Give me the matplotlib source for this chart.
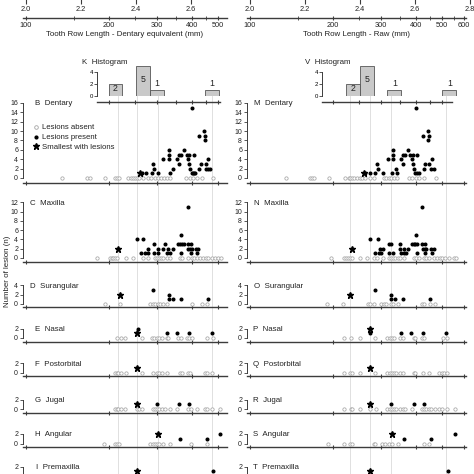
import numpy as np
import matplotlib
matplotlib.use('Agg')
import matplotlib.pyplot as plt
from matplotlib.lines import Line2D

plt.rcParams['font.family'] = ['Liberation Sans', 'DejaVu Sans']

# ---------------- data (x values are log10 tooth row length) ----------------
bones = ['Dentary', 'Maxilla', 'Surangular', 'Nasal', 'Postorbital', 'Jugal', 'Angular', 'Premaxilla']
left_letters = ['B', 'C', 'D', 'E', 'F', 'G', 'H', 'I']
right_letters = ['M', 'N', 'O', 'P', 'Q', 'R', 'S', 'T']

raw_ticks_left = [100, 200, 300, 400, 500]
raw_minor_left = [150, 250, 350, 450]
raw_ticks_right = [100, 200, 300, 400, 500, 600]
raw_minor_right = [150, 250, 350, 450, 550]
log_ticks_left = [2.0, 2.2, 2.4, 2.6]
log_ticks_right = [2.0, 2.2, 2.4, 2.6, 2.8]
hist_ticks = [200, 250, 300, 350, 400, 450, 500]

# Histograms of smallest size with lesions (bin start, counts), bin width 0.05
hist_left_bins = [2.30, 2.40, 2.45, 2.65]
hist_left_counts = [2, 5, 1, 1]
hist_right_bins = [2.35, 2.40, 2.50, 2.70]
hist_right_counts = [2, 5, 1, 1]
hist_width = 0.05

guides_left = [2.335, 2.404, 2.48, 2.676]
guides_right = [2.364, 2.436, 2.513, 2.713]

# ---- Left column: dentary equivalent ----
L_dentary_absent = [2.131, 2.222, 2.233, 2.287, 2.324, 2.331, 2.338, 2.371, 2.382, 2.389, 2.396, 2.404, 2.411,
                    2.425, 2.444, 2.455, 2.469, 2.48, 2.491, 2.502, 2.513, 2.524, 2.582, 2.596, 2.607, 2.622,
                    2.64, 2.68]
L_dentary_star = (2.415, 1)
L_dentary_px = [2.422, 2.436, 2.458, 2.462, 2.465, 2.48, 2.498, 2.52, 2.52, 2.52, 2.524, 2.535, 2.549, 2.556,
                2.564, 2.556, 2.575, 2.585, 2.593, 2.589, 2.593, 2.596, 2.604, 2.607, 2.611, 2.615, 2.604,
                2.611, 2.629, 2.636, 2.629, 2.647, 2.651, 2.651, 2.662, 2.655, 2.655, 2.662, 2.669]
L_dentary_py = [1, 1, 1, 3, 2, 1, 4, 6, 5, 4, 1, 2, 4, 5,
                5, 3, 6, 5, 5, 4, 3, 2, 1, 1, 1, 1, 15,
                5, 2, 3, 9, 10, 9, 8, 4, 3, 2, 2, 2]

L_maxilla_absent = [2.258, 2.305, 2.313, 2.318, 2.324, 2.331, 2.364, 2.389, 2.425, 2.444, 2.469, 2.476, 2.484,
                    2.491, 2.498, 2.513, 2.524, 2.56, 2.567, 2.589, 2.604, 2.611, 2.622, 2.633, 2.644, 2.655,
                    2.662, 2.676, 2.687, 2.698, 2.709]
L_maxilla_star = (2.335, 2)
L_maxilla_px = [2.404, 2.425, 2.418, 2.433, 2.444, 2.444, 2.465, 2.465, 2.48, 2.48, 2.498, 2.505, 2.513, 2.516,
                2.524, 2.535, 2.553, 2.56, 2.567, 2.575, 2.564, 2.564, 2.589, 2.589, 2.6, 2.589, 2.596, 2.604,
                2.6, 2.618, 2.625, 2.622]
L_maxilla_py = [4, 4, 1, 1, 1, 2, 3, 1, 1, 2, 2, 3, 1, 2,
                1, 2, 3, 3, 3, 3, 5, 1, 11, 3, 3, 2, 2, 2,
                1, 2, 2, 1]

L_surangular_absent = [2.287, 2.342, 2.451, 2.461, 2.469, 2.481, 2.487, 2.497, 2.512, 2.603, 2.639, 2.659]
L_surangular_star = (2.342, 2)
L_surangular_px = [2.462, 2.52, 2.52, 2.535, 2.564, 2.662]
L_surangular_py = [3, 2, 1, 1, 1, 1]

L_nasal_absent = [2.33, 2.344, 2.36, 2.421, 2.457, 2.465, 2.475, 2.485, 2.493, 2.512, 2.517, 2.554, 2.563,
                  2.584, 2.594, 2.603, 2.657, 2.679]
L_nasal_star = (2.403, 1)
L_nasal_px = [2.406, 2.512, 2.549, 2.593, 2.675]
L_nasal_py = [2, 1, 1, 1, 1]

L_postorbital_absent = [2.324, 2.33, 2.336, 2.344, 2.364, 2.421, 2.461, 2.475, 2.485, 2.493, 2.512, 2.56, 2.566,
                        2.59, 2.596, 2.651, 2.659, 2.675]
L_postorbital_star = (2.403, 1)
L_postorbital_px = []
L_postorbital_py = []

L_jugal_absent = [2.324, 2.33, 2.336, 2.344, 2.36, 2.403, 2.412, 2.421, 2.461, 2.469, 2.475, 2.485, 2.493,
                  2.505, 2.524, 2.548, 2.59, 2.599, 2.621, 2.651, 2.659, 2.675, 2.705]
L_jugal_star = (2.403, 1)
L_jugal_px = [2.475, 2.557, 2.593]
L_jugal_py = [1, 1, 1]

L_angular_absent = [2.284, 2.324, 2.33, 2.339, 2.451, 2.461, 2.469, 2.477, 2.485, 2.499, 2.524, 2.599, 2.659]
L_angular_star = (2.479, 2)
L_angular_px = [2.56, 2.659, 2.705]
L_angular_py = [1, 1, 2]

L_premaxilla_absent = []
L_premaxilla_star = (2.403, 1)
L_premaxilla_px = [2.679]
L_premaxilla_py = [1]

# ---- Right column: raw ----
R_dentary_absent = [2.132, 2.217, 2.225, 2.234, 2.286, 2.344, 2.359, 2.365, 2.371, 2.379, 2.389, 2.399, 2.407,
                    2.419, 2.437, 2.452, 2.486, 2.496, 2.504, 2.513, 2.523, 2.535, 2.577, 2.589, 2.605, 2.613,
                    2.632, 2.676]
R_dentary_star = (2.413, 1)
R_dentary_px = [2.419, 2.435, 2.456, 2.462, 2.464, 2.483, 2.501, 2.519, 2.519, 2.519, 2.516, 2.532, 2.535,
                2.549, 2.555, 2.565, 2.556, 2.573, 2.583, 2.592, 2.589, 2.593, 2.595, 2.601, 2.607, 2.613,
                2.604, 2.607, 2.628, 2.646, 2.65, 2.647, 2.632, 2.635, 2.652, 2.662, 2.658, 2.67]
R_dentary_py = [1, 1, 1, 3, 2, 1, 4, 6, 5, 4, 1, 2, 1,
                4, 5, 5, 3, 6, 5, 5, 4, 3, 2, 1, 1, 1,
                15, 5, 9, 10, 9, 8, 2, 3, 3, 4, 2, 2]

R_maxilla_absent = [2.295, 2.343, 2.35, 2.356, 2.363, 2.371, 2.401, 2.425, 2.45, 2.462, 2.484, 2.504, 2.513,
                    2.52, 2.528, 2.537, 2.547, 2.559, 2.597, 2.605, 2.613, 2.632, 2.641, 2.65, 2.668, 2.68,
                    2.69, 2.698, 2.71, 2.723, 2.741, 2.75]
R_maxilla_star = (2.371, 2)
R_maxilla_px = [2.437, 2.464, 2.456, 2.47, 2.472, 2.483, 2.477, 2.504, 2.513, 2.504, 2.52, 2.544, 2.547, 2.55,
                2.559, 2.567, 2.559, 2.575, 2.589, 2.595, 2.601, 2.607, 2.604, 2.607, 2.625, 2.625, 2.637,
                2.629, 2.635, 2.641, 2.637, 2.659, 2.668, 2.662]
R_maxilla_py = [4, 4, 1, 1, 2, 2, 1, 3, 3, 1, 1, 2, 3, 1,
                1, 1, 2, 2, 3, 3, 3, 3, 5, 1, 11, 3, 3,
                2, 2, 2, 1, 2, 2, 1]

R_surangular_absent = [2.28, 2.338, 2.428, 2.435, 2.45, 2.476, 2.486, 2.496, 2.513, 2.52, 2.537, 2.625, 2.634,
                       2.653, 2.674]
R_surangular_star = (2.365, 2)
R_surangular_px = [2.456, 2.514, 2.514, 2.528, 2.556, 2.656]
R_surangular_py = [3, 2, 1, 1, 1, 1]

R_nasal_absent = [2.343, 2.367, 2.399, 2.456, 2.498, 2.508, 2.516, 2.523, 2.547, 2.555, 2.595, 2.601, 2.625,
                  2.634, 2.701, 2.716]
R_nasal_star = (2.437, 2)
R_nasal_px = [2.437, 2.549, 2.587, 2.629, 2.714]
R_nasal_py = [1, 1, 1, 1, 1]

R_postorbital_absent = [2.343, 2.363, 2.371, 2.399, 2.456, 2.498, 2.508, 2.516, 2.523, 2.532, 2.547, 2.556,
                        2.595, 2.601, 2.629, 2.65, 2.686, 2.698, 2.707, 2.716]
R_postorbital_star = (2.437, 1)
R_postorbital_px = []
R_postorbital_py = []

R_jugal_absent = [2.343, 2.367, 2.371, 2.401, 2.437, 2.459, 2.498, 2.508, 2.516, 2.523, 2.532, 2.547, 2.556,
                  2.565, 2.589, 2.625, 2.634, 2.641, 2.65, 2.658, 2.674, 2.686, 2.698, 2.716, 2.746]
R_jugal_star = (2.437, 1)
R_jugal_px = [2.513, 2.595, 2.632]
R_jugal_py = [1, 1, 1]

R_angular_absent = [2.283, 2.343, 2.365, 2.371, 2.45, 2.456, 2.48, 2.492, 2.504, 2.516, 2.537, 2.632, 2.65]
R_angular_star = (2.516, 2)
R_angular_px = [2.559, 2.658, 2.744]
R_angular_py = [1, 1, 2]

R_premaxilla_absent = []
R_premaxilla_star = (2.437, 1)
R_premaxilla_px = [2.719]
R_premaxilla_py = [1]

# ---------------- build tables from the named lists ----------------
g = globals()
def bone_table(prefix):
    return {b: (g[f'{prefix}_{b.lower()}_absent'], g[f'{prefix}_{b.lower()}_star'],
                g[f'{prefix}_{b.lower()}_px'], g[f'{prefix}_{b.lower()}_py']) for b in bones}

# ---------------- layout helpers ----------------
W = H = 474
fig = plt.figure(figsize=(4.74, 4.74), dpi=100)
SCALE = 275.0  # px per log unit

def rect(l, t, r, b):
    return [l / W, 1 - b / H, (r - l) / W, (b - t) / H]

AX = '#3c3c3c'
GREY = '#a5a5a5'
GUIDE = '#dadada'

# (zero px, px per unit, top tick, spine px)
layout = [
    (178.0, 4.7, 16, 183.0),
    (258.0, 4.65, 12, 262.0),
    (304.0, 4.7, 4, 307.0),
    (338.0, 4.6, 2, 342.0),
    (372.5, 4.6, 2, 376.0),
    (409.0, 4.6, 2, 413.0),
    (443.5, 4.8, 2, 447.0),
    (476.0, 4.6, 2, 480.0),
]

columns = [
    dict(x0=26, xlim=(1.99, 2.73), raw=raw_ticks_left, rawminor=raw_minor_left, logt=log_ticks_left,
         loglim=(1.99, 2.73), xlabel='Tooth Row Length - Dentary equivalent (mm)',
         hxlim=(2.258, 2.73), hspine=(2.258, 2.705), hbins=hist_left_bins, hcounts=hist_left_counts,
         hletter='K', hletter_px=82, guides=guides_left, letters=left_letters, data=bone_table('L'),
         title_px=[35, 30, 30, 35, 35, 35, 35, 36]),
    dict(x0=250, xlim=(1.99, 2.785), raw=raw_ticks_right, rawminor=raw_minor_right, logt=log_ticks_right,
         loglim=(1.99, 2.83), xlabel='Tooth Row Length - Raw (mm)',
         hxlim=(2.262, 2.785), hspine=(2.262, 2.735), hbins=hist_right_bins, hcounts=hist_right_counts,
         hletter='V', hletter_px=305, guides=guides_right, letters=right_letters, data=bone_table('R'),
         title_px=[254, 254, 254, 253, 253, 253, 253, 253]),
]

for col in columns:
    x0 = col['x0']
    lpx = x0 + (col['xlim'][0] - 2) * SCALE
    rpx = x0 + (col['xlim'][1] - 2) * SCALE

    # guide lines (behind everything)
    gax = fig.add_axes(rect(lpx, 96, rpx, 480), zorder=0)
    gax.set_xlim(*col['xlim']); gax.set_ylim(0, 1); gax.axis('off')
    for gx in col['guides']:
        gax.axvline(gx, color=GUIDE, lw=0.6)

    # upper log axis (labels only visible, spine just above the figure)
    lrpx = x0 + (col['loglim'][1] - 2) * SCALE
    lax = fig.add_axes(rect(lpx, -10, lrpx, -1))
    lax.set_xlim(*col['loglim'])
    lax.patch.set_visible(False)
    for s in ['top', 'right', 'left']:
        lax.spines[s].set_visible(False)
    lax.spines['bottom'].set_color(AX)
    lax.set_yticks([])
    lax.set_xticks(col['logt'])
    lax.set_xticklabels([f'{v:.1f}' for v in col['logt']])
    lax.tick_params(axis='x', direction='out', length=3.5, width=0.8, color=AX, labelsize=5.3, pad=1.2,
                    labelcolor='#222222')

    # raw (mm) axis
    tax = fig.add_axes(rect(lpx, 8, rpx, 17.5))
    tax.set_xlim(*col['xlim'])
    tax.patch.set_visible(False)
    for s in ['top', 'right', 'left']:
        tax.spines[s].set_visible(False)
    tax.spines['bottom'].set_color(AX)
    tax.spines['bottom'].set_linewidth(1.0)
    tax.set_yticks([])
    tax.set_xticks(np.log10(col['raw']))
    tax.set_xticklabels([str(v) for v in col['raw']])
    tax.set_xticks(np.log10(col['rawminor']), minor=True)
    tax.tick_params(axis='x', which='major', direction='inout', length=3.5, width=0.8, color=AX,
                    labelsize=5.3, pad=1.5, labelcolor='#222222')
    tax.tick_params(axis='x', which='minor', direction='inout', length=2.2, width=0.6, color=AX)
    tax.set_xlabel(col['xlabel'], fontsize=5.7, labelpad=1.5, color='#222222')

    # histogram
    hl = x0 + (col['hxlim'][0] - 2) * SCALE
    hr = x0 + (col['hxlim'][1] - 2) * SCALE
    hax = fig.add_axes(rect(hl, 64, hr, 95.5))
    hax.set_xlim(*col['hxlim']); hax.set_ylim(0, 5.25)
    hax.patch.set_visible(False)
    for s in ['top', 'right']:
        hax.spines[s].set_visible(False)
    hax.spines['bottom'].set_position(('outward', 5))
    hax.spines['bottom'].set_bounds(*col['hspine'])
    hax.spines['left'].set_bounds(0, 4)
    for s in ['bottom', 'left']:
        hax.spines[s].set_color(AX)
    hax.spines['bottom'].set_linewidth(1.0)
    hax.spines['left'].set_linewidth(0.7)
    hax.axhline(0, color=AX, lw=0.7)
    hax.bar(col['hbins'], col['hcounts'], width=hist_width, align='edge', color='#c9c9c9',
            edgecolor='#555555', linewidth=0.6, zorder=3)
    for bx, bc in zip(col['hbins'], col['hcounts']):
        ty = bc * 0.55 if bc > 1 else bc + 0.95
        hax.text(bx + hist_width / 2, ty, str(bc), ha='center', va='center', fontsize=6.3, color='#222222',
                 zorder=4)
    hax.set_yticks([0, 2, 4])
    hax.tick_params(axis='y', direction='out', length=2, width=0.6, labelsize=4.3, pad=1, color=AX)
    hax.set_xticks(np.log10(hist_ticks))
    hax.set_xticklabels([])
    hax.tick_params(axis='x', direction='inout', length=3.5, width=0.8, color=AX)
    fig.text(col['hletter_px'] / W, 1 - 62 / H, f"{col['hletter']}  Histogram", fontsize=5.7,
             va='center', ha='left', color='#222222')

    # bone panels
    for i, bone in enumerate(bones):
        zero, unit, ytop, spine = layout[i]
        top = zero - (ytop + 0.5) * unit
        ax = fig.add_axes(rect(lpx, top, rpx, spine))
        ax.set_xlim(*col['xlim'])
        ax.set_ylim(-(spine - zero) / unit, ytop + 0.5)
        ax.patch.set_visible(False)
        for s in ['top', 'right']:
            ax.spines[s].set_visible(False)
        ax.spines['left'].set_bounds(0, ytop)
        ax.spines['left'].set_color(AX); ax.spines['left'].set_linewidth(0.7)
        ax.spines['bottom'].set_color(AX); ax.spines['bottom'].set_linewidth(1.0)
        # the premaxilla panel runs off the bottom edge: only its top tick label is in view
        yt = np.arange(0, ytop + 1, 2) if bone != 'Premaxilla' else [ytop]
        ax.set_yticks(yt)
        ax.tick_params(axis='y', direction='out', length=2.5, width=0.6, labelsize=5.0, pad=1.2, color=AX,
                       labelcolor='#222222')
        ax.set_xticks(np.log10(col['raw']))
        ax.set_xticklabels([])
        ax.tick_params(axis='x', direction='inout', length=3.5, width=0.8, color=AX)

        absent, star, pxs, pys = col['data'][bone]
        ax.plot(absent, np.zeros(len(absent)), 'o', ms=2.4, mfc='white', mec=GREY, mew=0.55,
                ls='none', clip_on=False, zorder=3)
        ax.plot(pxs, pys, 'o', ms=1.9, color='black', ls='none', clip_on=False, zorder=4)
        ax.plot([star[0]], [star[1]], '*', ms=4.8, color='black', ls='none', clip_on=False, zorder=5)
        fig.text(col['title_px'][i] / W, 1 - (zero - ytop * unit + 1) / H,
                 f"{col['letters'][i]}  {bone}", fontsize=5.7, va='center', ha='left', color='#222222')

        if col['x0'] == 26 and bone == 'Dentary':
            hs = [Line2D([], [], marker='o', ms=2.6, mfc='white', mec=GREY, mew=0.6, ls='none'),
                  Line2D([], [], marker='o', ms=2.0, color='black', ls='none'),
                  Line2D([], [], marker='*', ms=4.8, color='black', ls='none')]
            ax.legend(hs, ['Lesions absent', 'Lesions present', 'Smallest with lesions'],
                      loc='upper left', bbox_to_anchor=(33 / W, 1 - 124 / H), bbox_transform=fig.transFigure,
                      frameon=False, fontsize=5.6, handlelength=0.8, handletextpad=0.4, labelspacing=0.3,
                      borderpad=0, borderaxespad=0, labelcolor='#222222')

fig.text(8 / W, 1 - 271 / H, 'Number of lesion (n)', rotation=90, fontsize=5.7, va='center', ha='center',
         color='#222222')

fig.savefig('out.png', dpi=100)
